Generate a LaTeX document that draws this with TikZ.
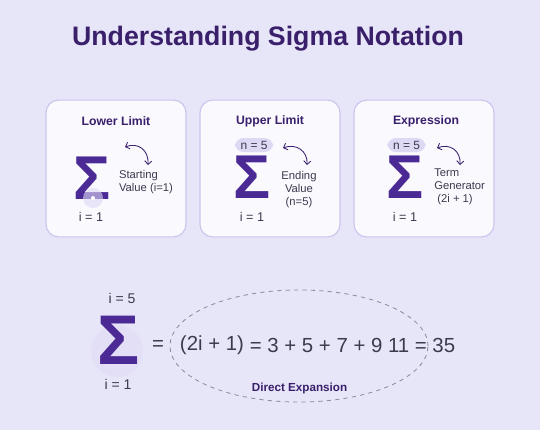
\documentclass[tikz,border=0pt]{standalone}
\usepackage{fontspec}
\setmainfont{Liberation Sans}
\usetikzlibrary{positioning, shapes.geometric, arrows.meta}
\definecolor{sgbg}{HTML}{E7E5F8}
\definecolor{sgcard}{HTML}{F9F9FE}
\definecolor{sgedge}{HTML}{CBC5EE}
\definecolor{sgpurple}{HTML}{4B2A95}
\definecolor{sgdark}{HTML}{3A1F6B}
\definecolor{sgtext}{HTML}{3C3A4E}
\definecolor{sgpill}{HTML}{DDD9F4}
\definecolor{sgring}{HTML}{8E8CA0}

\begin{document}
\begin{tikzpicture}[x=0.025cm, y=-0.025cm,
    card/.style={draw=sgedge, fill=sgcard, line width=0.8pt, rounded corners=9pt,
                 minimum width=3.5cm, minimum height=3.42cm},
    head/.style={font=\fontsize{8.7}{10}\selectfont\bfseries, text=sgdark, inner sep=0pt},
    sig/.style={font=\fontsize{44}{44}\selectfont\bfseries, text=sgpurple, inner sep=0pt},
    lim/.style={font=\fontsize{9}{10}\selectfont, text=sgtext, inner sep=0pt},
    pill/.style={fill=sgpill, rounded corners=6pt, minimum width=0.95cm, minimum height=0.35cm,
                 inner sep=0pt, font=\fontsize{8.5}{10}\selectfont, text=sgtext},
    aside/.style={font=\fontsize{8}{9.2}\selectfont, text=sgtext, inner sep=0pt},
    swing/.style={sgdark, line width=0.6pt, {Straight Barb[length=2.5pt]}-{Straight Barb[length=2.5pt]}},
    big/.style={font=\fontsize{14.5}{16}\selectfont, text=sgtext, inner sep=0pt}]
  \fill[sgbg] (0,0) rectangle (540,430);
  \node[font=\fontsize{19}{22}\selectfont\bfseries, text=sgdark] (title) at (268,39) {Understanding Sigma Notation};

  \node[card] (lowcard) at (116,168.5) {};
  \node[card] (upcard)  at (270,168.5) {};
  \node[card] (expcard) at (424,168.5) {};

  \node[head] (lowhead) at (116,121) {Lower Limit};
  \node[sig] (lowsig) at (92,178) {Σ};
  \fill[sgpill, opacity=0.6] (93,198) circle (10);
  \fill[white] (93,198) circle (2);
  \node[lim] (lowi) at (91,217) {i = 1};
  \node[aside, align=left] (lowtxt) at (146,182) {Starting\\Value (i=1)};
  \coordinate (lowa) at (125,147);
  \coordinate (lowb) at (148,165);
  \draw[swing] (lowa) .. controls (138,142) and (149,150) .. (lowb);

  \node[head] (uphead) at (270,121) {Upper Limit};
  \node[pill] (uppill) at (254,145) {n = 5};
  \node[sig] (upsig) at (252.5,177) {Σ};
  \node[lim] (upi) at (252,217) {i = 1};
  \node[aside, align=center] (uptxt) at (299,190) {Ending\\Value\\(n=5)};
  \coordinate (upa) at (283,148);
  \coordinate (upb) at (307,165);
  \draw[swing] (upa) .. controls (296,143) and (308,151) .. (upb);

  \node[head] (exphead) at (426,121) {Expression};
  \node[pill] (exppill) at (406.5,145) {n = 5};
  \node[sig] (expsig) at (405.5,177) {Σ};
  \node[lim] (expi) at (405,217) {i = 1};
  \node[aside, align=left, anchor=west] (exptxt) at (434,187) {Term\\Generator\\\ (2i + 1)};
  \coordinate (expa) at (437,148);
  \coordinate (expb) at (460,165);
  \draw[swing] (expa) .. controls (450,143) and (461,151) .. (expb);

  \fill[sgpill, opacity=0.45] (117,351) circle (26);
  \node[sig, font=\fontsize{50}{50}\selectfont\bfseries] (bigsig) at (119,340) {Σ};
  \node[lim, font=\fontsize{10}{12}\selectfont] (bigtop) at (122,298) {i = 5};
  \node[lim, font=\fontsize{10}{12}\selectfont] (bigbot) at (118,384) {i = 1};
  \node[big] (eqa) at (158,345) {=};
  \node[big] (term) at (212,345) {(2i + 1)};
  \node[big] (expand) at (352.5,345) {= 3 + 5 + 7 + 9 11 = 35};
  \node[ellipse, draw=sgring, dashed, line width=0.6pt, minimum width=6.45cm, minimum height=2.8cm] (ring) at (299,346) {};
  \node[font=\fontsize{8.3}{10}\selectfont\bfseries, text=sgdark, inner sep=0pt] (dirlabel) at (299.5,388) {Direct Expansion};
\end{tikzpicture}
\end{document}
